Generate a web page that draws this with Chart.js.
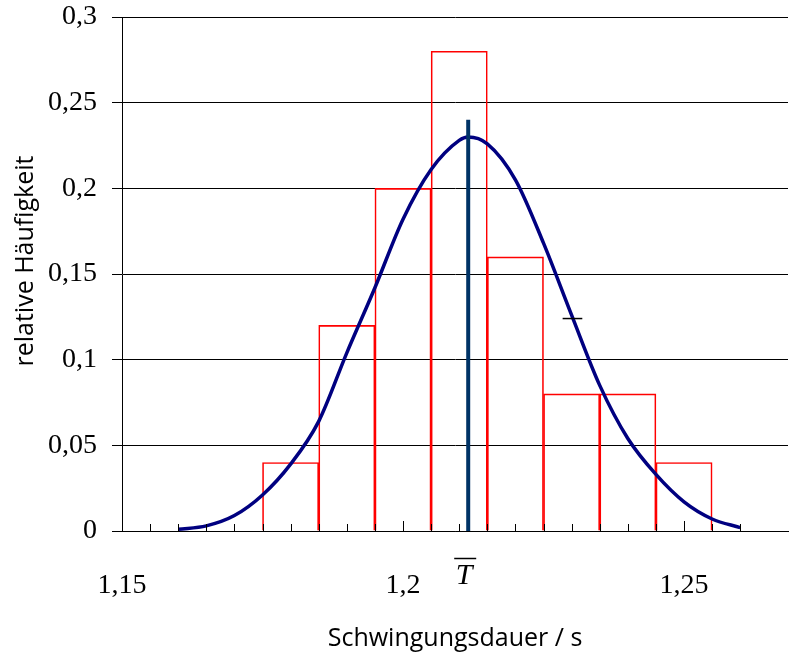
<!DOCTYPE html>
<html>
<head>
<meta charset="utf-8">
<script src="https://cdn.jsdelivr.net/npm/chart.js@4.4.0/dist/chart.umd.min.js"></script>
<style>
  html, body { margin: 0; padding: 0; background: #fff; }
</style>
</head>
<body>
<canvas id="chart" width="789" height="659"></canvas>
<script>
// === data ===
const binCenters = [1.18, 1.19, 1.20, 1.21, 1.22, 1.23, 1.24, 1.25];
const relFreq    = [0.04, 0.12, 0.20, 0.28, 0.16, 0.08, 0.08, 0.04];

// fitted normal curve (read point by point)
const curveX = [1.160, 1.165, 1.170, 1.175, 1.180, 1.185, 1.190, 1.195, 1.200, 1.205, 1.210,
                1.2116, 1.215, 1.220, 1.225, 1.230, 1.235, 1.240, 1.245, 1.250, 1.255, 1.260];
const curveY = [0.001, 0.003, 0.009, 0.021, 0.039, 0.064, 0.104, 0.142, 0.182, 0.211, 0.228,
                0.230, 0.226, 0.205, 0.168, 0.126, 0.085, 0.054, 0.033, 0.017, 0.007, 0.002];

// mean line and the small mark on the right flank
const meanX = [1.2116, 1.2116];
const meanY = [0, 0.24];
const markX = [1.2284, 1.2319];
const markY = [0.124, 0.124];

const xLabelValues = [1.15, 1.2, 1.25];
const yMin = 0, yMax = 0.3, yStep = 0.05;
const xMin = 1.15, xMax = 1.2685, xStep = 0.005;

const serif = "'Liberation Serif', 'Times New Roman', serif";
const sans  = "'Open Sans', 'Noto Sans', sans-serif";

function toPoints(xs, ys){ return xs.map((x, i) => ({ x: x, y: ys[i] })); }
function comma(v){ return String(parseFloat(v.toFixed(3))).replace('.', ','); }
function isLabel(v){ return xLabelValues.some(l => Math.abs(l - v) < 1e-6); }

// bar width = one bin on the x scale
function binWidthPx(c){
  const xs = c.chart.scales.x;
  if (!xs) return 1;
  return Math.abs(xs.getPixelForValue(binCenters[1]) - xs.getPixelForValue(binCenters[0]));
}

// x ticks drawn inside the plot + the T-bar label under the mean
const insideTicks = {
  id: 'insideTicks',
  afterDatasetsDraw(chart){
    const ctx = chart.ctx;
    const xs = chart.scales.x;
    const bottom = chart.chartArea.bottom;
    ctx.save();
    ctx.strokeStyle = '#000';
    ctx.lineWidth = 1;
    xs.ticks.forEach(t => {
      const px = Math.round(xs.getPixelForValue(t.value)) + 0.5;
      const len = isLabel(t.value) ? 10 : 7;
      ctx.beginPath();
      ctx.moveTo(px, bottom);
      ctx.lineTo(px, bottom - len);
      ctx.stroke();
    });
    // T with overline
    const mx = xs.getPixelForValue(meanX[0]) - 4;
    ctx.fillStyle = '#000';
    ctx.font = 'italic 30px ' + serif;
    ctx.textAlign = 'center';
    ctx.textBaseline = 'alphabetic';
    ctx.fillText('T', mx, 584);
    ctx.lineWidth = 1.5;
    ctx.beginPath();
    ctx.moveTo(mx - 10, 558.5);
    ctx.lineTo(mx + 12, 558.5);
    ctx.stroke();
    ctx.restore();
  }
};

const ctx = document.getElementById('chart');
const chart = new Chart(ctx, {
  type: 'bar',
  data: {
    datasets: [
      {
        type: 'line', label: 'mean', data: toPoints(meanX, meanY),
        borderColor: '#003366', borderWidth: 4, pointRadius: 0, order: 1
      },
      {
        type: 'line', label: 'mark', data: toPoints(markX, markY),
        borderColor: '#000', borderWidth: 1.5, pointRadius: 0, order: 0
      },
      {
        type: 'line', label: 'Normalverteilung', data: toPoints(curveX, curveY),
        borderColor: '#000080', borderWidth: 3.5, pointRadius: 0,
        cubicInterpolationMode: 'monotone', order: 2
      },
      {
        type: 'bar', label: 'relative Häufigkeit', data: toPoints(binCenters, relFreq),
        backgroundColor: 'rgba(0,0,0,0)', borderColor: '#ff0000', borderWidth: 1,
        borderSkipped: 'start', barThickness: binWidthPx, order: 3
      }
    ]
  },
  options: {
    responsive: false,
    animation: false,
    layout: { padding: { top: 17, right: 1, left: 0, bottom: 0 } },
    plugins: { legend: { display: false }, tooltip: { enabled: false } },
    scales: {
      x: {
        type: 'linear', min: xMin, max: xMax, offset: false,
        grid: { display: false, drawTicks: false, offset: false },
        border: { display: true, color: '#000', width: 1 },
        afterBuildTicks: (s) => {
          s.ticks = s.ticks.filter(t => Math.abs(t.value / xStep - Math.round(t.value / xStep)) < 1e-6);
        },
        afterFit: (s) => { s.height = 128; s.paddingRight = 0; },
        ticks: {
          stepSize: xStep, autoSkip: false, maxRotation: 0, padding: 38,
          color: '#000', font: { family: serif, size: 28 },
          callback: (v) => isLabel(v) ? comma(v) : ''
        },
        title: {
          display: true, text: 'Schwingungsdauer / s', color: '#000',
          font: { family: sans, size: 25 }, padding: { top: 0, bottom: 5 }
        }
      },
      y: {
        min: yMin, max: yMax,
        grid: { color: '#000', lineWidth: 1, drawTicks: true, tickLength: 10 },
        border: { display: true, color: '#000', width: 1 },
        afterFit: (s) => { s.width = 122; s.paddingTop = 0; s.paddingBottom = 0; },
        ticks: {
          stepSize: yStep, padding: 15, color: '#000',
          font: { family: serif, size: 28 },
          callback: (v) => comma(v)
        },
        title: {
          display: true, text: '    relative Häufigkeit', color: '#000',
          font: { family: sans, size: 25 }, padding: { top: 11, bottom: 0 }
        }
      }
    }
  },
  plugins: [insideTicks]
});
</script>
</body>
</html>
